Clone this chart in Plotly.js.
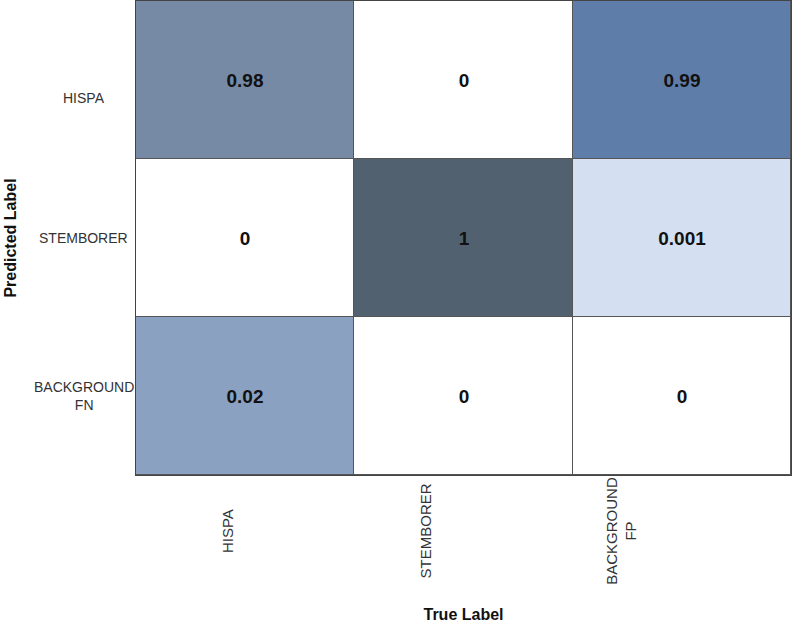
<!DOCTYPE html>
<html>
<head>
<meta charset="utf-8">
<script src="https://cdn.plot.ly/plotly-3.0.1.min.js"></script>
<style>html,body{margin:0;padding:0;background:#fff;}</style>
</head>
<body>
<div id="chart" style="width:792px;height:623px;"></div>
<script>
// Data
var trueLabels = ["HISPA", "STEMBORER", "BACKGROUND<br>FP"];
var predictedLabels = ["HISPA", "STEMBORER", "BACKGROUND<br>FN"];
var rowHispa = [0.98, 0, 0.99];
var rowStemborer = [0, 1, 0.001];
var rowBackgroundFN = [0.02, 0, 0];

var z = [rowHispa, rowStemborer, rowBackgroundFN];
var xIdx = trueLabels.map(function (_, i) { return i; });
var yIdx = predictedLabels.map(function (_, i) { return i; });

var colorscale = [
  [0, '#ffffff'],
  [0.001, '#d4e0f2'],
  [0.02, '#8ba1c1'],
  [0.98, '#7689a5'],
  [0.99, '#5e7da8'],
  [1, '#526170']
];

var trace = {
  type: 'heatmap',
  x: xIdx,
  y: yIdx,
  z: z,
  zmin: 0,
  zmax: 1,
  colorscale: colorscale,
  showscale: false,
  xgap: 1,
  ygap: 1,
  texttemplate: '<b>%{z}</b>',
  textfont: {family: 'Liberation Sans, Arial, sans-serif', size: 19, color: '#111'},
  hoverinfo: 'skip'
};

var annotations = [];
var yShifts = [-18, 0, 0];
predictedLabels.forEach(function (lab, i) {
  annotations.push({
    text: lab, xref: 'paper', yref: 'y', x: -0.08, y: i,
    xanchor: 'center', yanchor: 'middle', showarrow: false, yshift: yShifts[i],
    font: {family: 'Liberation Sans, Arial, sans-serif', size: 14, color: '#333'}
  });
});
var xShifts = [-17, -38, -60];
trueLabels.forEach(function (lab, i) {
  annotations.push({
    text: lab, xref: 'x', yref: 'paper', x: i, y: -0.118,
    xanchor: 'center', yanchor: 'middle', showarrow: false, xshift: xShifts[i],
    textangle: -90,
    font: {family: 'Liberation Sans, Arial, sans-serif', size: 15, color: '#333'}
  });
});

var layout = {
  width: 792, height: 623,
  margin: {l: 136, r: 1, t: 1, b: 148, pad: 0},
  paper_bgcolor: '#ffffff',
  plot_bgcolor: '#555555',
  showlegend: false,
  xaxis: {
    range: [-0.5, 2.5], showticklabels: false, ticks: '', showgrid: false, zeroline: false,
    showline: true, mirror: true, linecolor: '#444', linewidth: 1, automargin: false,
    title: {text: '<b>True Label</b>', standoff: 134,
      font: {family: 'Liberation Sans, Arial, sans-serif', size: 16, color: '#111'}}
  },
  yaxis: {
    range: [2.5, -0.5], showticklabels: false, ticks: '', showgrid: false, zeroline: false,
    showline: true, mirror: true, linecolor: '#444', linewidth: 1, automargin: false,
    title: {text: '<b>Predicted Label</b>', standoff: 114,
      font: {family: 'Liberation Sans, Arial, sans-serif', size: 16, color: '#111'}}
  },
  annotations: annotations
};

Plotly.newPlot('chart', [trace], layout, {displayModeBar: false, staticPlot: true});
</script>
</body>
</html>
